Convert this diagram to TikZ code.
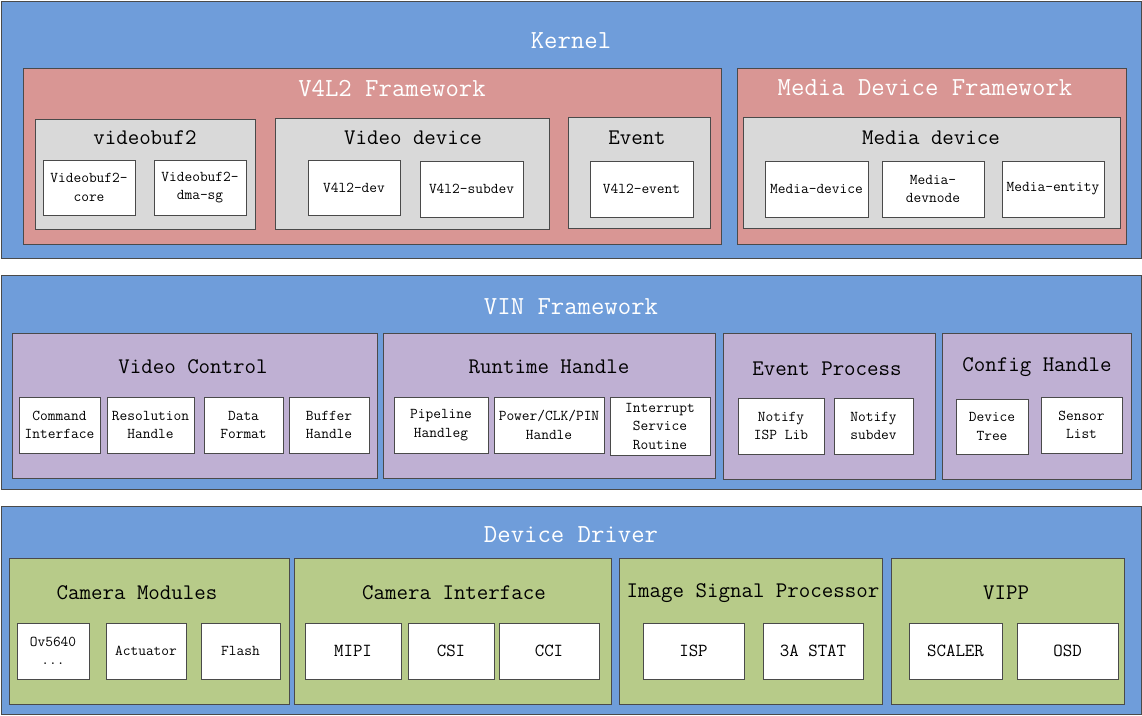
\documentclass[tikz,border=0pt]{standalone}
\usepackage{fontspec}
\definecolor{blueF}{HTML}{6F9DDA}
\definecolor{redF}{HTML}{D99694}
\definecolor{grayF}{HTML}{D9D9D9}
\definecolor{purpF}{HTML}{BFB0D3}
\definecolor{greenF}{HTML}{B7CB89}
\definecolor{edge}{HTML}{4A4A4A}
\tikzset{
  box/.style={draw=edge, line width=0.8pt, inner sep=0pt, outer sep=0pt, align=center},
  layer/.style={box, fill=blueF},
  redbox/.style={box, fill=redF},
  graybox/.style={box, fill=grayF},
  purpbox/.style={box, fill=purpF},
  greenbox/.style={box, fill=greenF},
  leaf/.style={box, fill=white, font=\ttfamily\fontsize{15}{18.5}\selectfont},
  bigleaf/.style={box, fill=white, font=\ttfamily\fontsize{18.4}{22}\selectfont},
  htitle/.style={inner sep=0pt, text=white, font=\ttfamily\fontsize{26}{30}\selectfont},
  stitle/.style={inner sep=0pt, text=black, font=\ttfamily\fontsize{22.3}{26}\selectfont},
}
\newcommand\bx[7]{\node[#6, minimum width={#4-#2}, minimum height={#5-#3}] (#1) at ({(#2+#4)/2},{(#3+#5)/2}) {#7};}
\begin{document}
\begin{tikzpicture}[x=1pt,y=-1pt]
\fill[white] (0,0) rectangle (1142,715);
\useasboundingbox (0,0) rectangle (1142,715);
% ---------------- Kernel
\bx{kernel}{1}{1}{1141}{258}{layer}{}
\node[htitle] (kernelT) at (571,41) {Kernel};
\bx{v4l2}{23}{68}{721}{244}{redbox}{}
\node[htitle] (v4l2T) at (392,88) {V4L2 Framework};
\bx{mdf}{737}{68}{1126}{244}{redbox}{}
\node[htitle] (mdfT) at (925,88) {Media Device Framework};
\bx{vb2}{35}{119}{255}{229}{graybox}{}
\node[stitle] (vb2T) at (145,138) {videobuf2};
\bx{vb2core}{43}{160}{135}{215}{leaf}{Videobuf2-\\core}
\bx{vb2dma}{154}{160}{246}{215}{leaf}{Videobuf2-\\dma-sg}
\bx{vdev}{275}{118}{549}{229}{graybox}{}
\node[stitle] (vdevT) at (413,138) {Video device};
\bx{v4l2dev}{308}{160}{400}{215}{leaf}{V4l2-dev}
\bx{v4l2sub}{420}{161}{523}{217}{leaf}{V4l2-subdev}
\bx{event}{568}{117}{710}{228}{graybox}{}
\node[stitle] (eventT) at (637,138) {Event};
\bx{v4l2ev}{590}{161}{693}{217}{leaf}{V4l2-event}
\bx{mdev}{743}{117}{1120}{228}{graybox}{}
\node[stitle] (mdevT) at (931,138) {Media device};
\bx{mdevice}{765}{161}{868}{217}{leaf}{Media-device}
\bx{mnode}{882}{161}{984}{217}{leaf}{Media-\\devnode}
\bx{mentity}{1002}{161}{1104}{217}{leaf}{Media-entity}
% ---------------- VIN
\bx{vin}{1}{275}{1141}{489}{layer}{}
\node[htitle] (vinT) at (571,307) {VIN Framework};
\bx{vctl}{12}{333}{377}{478}{purpbox}{}
\node[stitle] (vctlT) at (193,367) {Video Control};
\bx{cmd}{19}{397}{100}{453}{leaf}{Command\\Interface}
\bx{res}{107}{397}{194}{453}{leaf}{Resolution\\Handle}
\bx{dfmt}{204}{397}{283}{453}{leaf}{Data\\Format}
\bx{buf}{289}{397}{369}{453}{leaf}{Buffer\\Handle}
\bx{rt}{383}{333}{715}{478}{purpbox}{}
\node[stitle] (rtT) at (549,367) {Runtime Handle};
\bx{pipe}{394}{397}{488}{453}{leaf}{Pipeline\\Handleg}
\bx{pwr}{494}{397}{604}{453}{leaf}{Power/CLK/PIN\\Handle}
\bx{isr}{610}{397}{710}{455}{leaf}{Interrupt\\Service\\Routine}
\bx{evp}{723}{333}{935}{479}{purpbox}{}
\node[stitle] (evpT) at (827,369) {Event Process};
\bx{nisp}{738}{398}{824}{454}{leaf}{Notify\\ISP Lib}
\bx{nsub}{834}{398}{913}{454}{leaf}{Notify\\subdev}
\bx{cfg}{942}{333}{1131}{479}{purpbox}{}
\node[stitle] (cfgT) at (1037,367) {Config Handle};
\bx{dtree}{956}{399}{1028}{454}{leaf}{Device\\Tree}
\bx{slist}{1041}{397}{1122}{453}{leaf}{Sensor\\List}
% ---------------- Device Driver
\bx{dd}{1}{506}{1141}{714}{layer}{}
\node[htitle] (ddT) at (571,535) {Device Driver};
\bx{cam}{9}{558}{289}{704}{greenbox}{}
\node[stitle] (camT) at (137,593) {Camera Modules};
\bx{ov}{17}{623}{89}{679}{leaf}{Ov5640\\...}
\bx{act}{106}{623}{186}{679}{leaf}{Actuator}
\bx{flash}{201}{623}{280}{679}{leaf}{Flash}
\bx{cif}{294}{558}{611}{704}{greenbox}{}
\node[stitle] (cifT) at (454,593) {Camera Interface};
\bx{mipi}{305}{623}{401}{679}{bigleaf}{MIPI}
\bx{csi}{408}{623}{494}{679}{bigleaf}{CSI}
\bx{cci}{499}{623}{599}{679}{bigleaf}{CCI}
\bx{ispb}{619}{558}{882}{704}{greenbox}{}
\node[stitle] (ispbT) at (753,593) {Image Signal Processor};
\bx{isp}{643}{623}{744}{679}{bigleaf}{ISP}
\bx{stat}{763}{623}{863}{679}{bigleaf}{3A STAT}
\bx{vipp}{891}{558}{1124}{704}{greenbox}{}
\node[stitle] (vippT) at (1006,593) {VIPP};
\bx{scaler}{909}{623}{1002}{679}{bigleaf}{SCALER}
\bx{osd}{1017}{623}{1118}{679}{bigleaf}{OSD}
\end{tikzpicture}
\end{document}
